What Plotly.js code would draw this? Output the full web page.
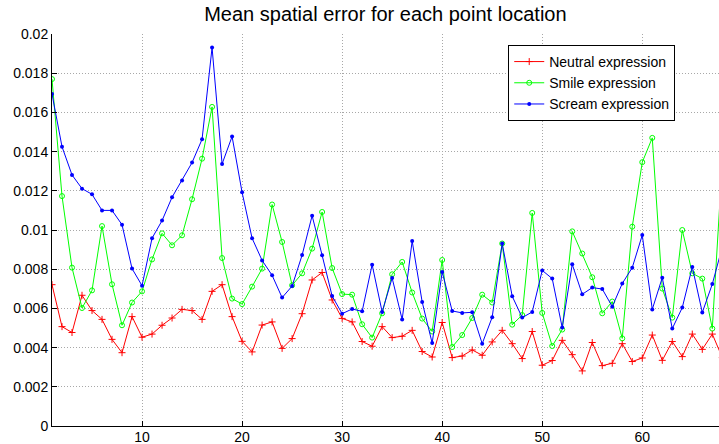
<!DOCTYPE html>
<html>
<head>
<meta charset="utf-8">
<script src="https://cdn.plot.ly/plotly-3.0.1.min.js"></script>
<style>html,body{margin:0;padding:0;background:#fff;}#chart{width:719px;height:444px;}</style>
</head>
<body>
<div id="chart"></div>
<script>
const pointIndex = Array.from({length: 68}, (_, i) => i + 1);

const neutral = [0.00721,0.00507,0.00477,0.00667,0.00589,0.00544,0.00442,0.00374,0.00558,0.00453,
0.00469,0.00514,0.00551,0.00595,0.00589,0.00544,0.00687,0.00721,0.00558,0.00432,
0.00378,0.00515,0.00531,0.00396,0.00446,0.00573,0.00745,0.00783,0.00643,0.00549,
0.00531,0.00431,0.00407,0.00507,0.00451,0.00458,0.00488,0.00380,0.00352,0.00528,
0.00349,0.00357,0.00388,0.00361,0.00429,0.00488,0.00420,0.00344,0.00482,0.00310,
0.00334,0.00437,0.00364,0.00281,0.00426,0.00308,0.00320,0.00420,0.00329,0.00347,
0.00464,0.00335,0.00431,0.00354,0.00469,0.00391,0.00469,0.00349];

const smile = [0.01770,0.01173,0.00808,0.00602,0.00692,0.01020,0.00723,0.00514,0.00630,0.00687,
0.00850,0.00983,0.00922,0.00973,0.01157,0.01364,0.01628,0.00857,0.00650,0.00622,
0.00711,0.00803,0.01130,0.00939,0.00718,0.00779,0.00905,0.01092,0.00806,0.00673,
0.00670,0.00519,0.00451,0.00575,0.00774,0.00837,0.00681,0.00548,0.00482,0.00847,
0.00403,0.00464,0.00551,0.00670,0.00630,0.00931,0.00517,0.00566,0.01087,0.00577,
0.00408,0.00492,0.00993,0.00880,0.00759,0.00575,0.00635,0.00447,0.01017,0.01346,
0.01470,0.00701,0.00553,0.01000,0.00779,0.00752,0.00497,0.01350];

const scream = [0.01694,0.01425,0.01281,0.01211,0.01182,0.01100,0.01100,0.01027,0.00803,0.00716,
0.00958,0.01048,0.01167,0.01253,0.01344,0.01463,0.01931,0.01337,0.01477,0.01192,
0.00958,0.00845,0.00769,0.00655,0.00714,0.00872,0.01073,0.00871,0.00663,0.00573,
0.00597,0.00585,0.00823,0.00582,0.00755,0.00543,0.00944,0.00633,0.00423,0.00786,
0.00587,0.00577,0.00580,0.00420,0.00555,0.00931,0.00662,0.00553,0.00582,0.00794,
0.00752,0.00502,0.00825,0.00672,0.00706,0.00699,0.00609,0.00727,0.00808,0.00974,
0.00595,0.00757,0.00497,0.00604,0.00811,0.00579,0.00724,0.00914];

const seriesNames = ["Neutral expression", "Smile expression", "Scream expression"];
const yTickVals = [0,0.002,0.004,0.006,0.008,0.01,0.012,0.014,0.016,0.018,0.02];
const yTickText = ["0","0.002","0.004","0.006","0.008","0.01","0.012","0.014","0.016","0.018","0.02"];
const xTickVals = [10,20,30,40,50,60];

const traces = [
  {x: pointIndex, y: neutral, name: seriesNames[0], mode: 'lines+markers',
   line: {color: '#ff0000', width: 1},
   marker: {symbol: 'cross-thin-open', size: 5, color: '#ff0000', line: {color: '#ff0000', width: 1}}},
  {x: pointIndex, y: smile, name: seriesNames[1], mode: 'lines+markers',
   line: {color: '#00ff00', width: 1},
   marker: {symbol: 'circle-open', size: 5, color: '#00ff00', line: {color: '#00ff00', width: 1}}},
  {x: pointIndex, y: scream, name: seriesNames[2], mode: 'lines+markers',
   line: {color: '#0000ff', width: 1},
   marker: {symbol: 'circle', size: 4, color: '#0000ff'}}
];

const layout = {
  width: 719, height: 444,
  margin: {l: 52, r: 0, t: 34, b: 18, pad: 0},
  paper_bgcolor: '#ffffff', plot_bgcolor: '#ffffff',
  font: {family: 'Liberation Sans, Arial, sans-serif', size: 14, color: '#000'},
  title: {text: 'Mean spatial error for each point location', x: 0.536, xanchor: 'center', y: 0.968, yanchor: 'middle',
          font: {family: 'Liberation Sans, Arial, sans-serif', size: 20, color: '#000'}},
  showlegend: true,
  legend: {x: 0.684, y: 0.972, xanchor: 'left', yanchor: 'top', bgcolor: '#ffffff',
           bordercolor: '#000', borderwidth: 1, font: {size: 14}, tracegroupgap: 0, itemwidth: 30},
  xaxis: {range: [1, 67.67], tickvals: xTickVals, ticks: 'inside', ticklen: 5, tickcolor: '#000',
          showline: true, linecolor: '#000', linewidth: 1, mirror: false, ticklabelstandoff: -2,
          showgrid: true, gridcolor: '#a8a8a8', griddash: '1px,2px', gridwidth: 1, zeroline: false,
          tickfont: {size: 14}},
  yaxis: {range: [0, 0.02], tickvals: yTickVals, ticktext: yTickText, ticks: 'inside', ticklen: 5, tickcolor: '#000',
          showline: true, linecolor: '#000', linewidth: 1, mirror: false,
          showgrid: true, gridcolor: '#a8a8a8', griddash: '1px,2px', gridwidth: 1, zeroline: false,
          tickfont: {size: 14}}
};

Plotly.newPlot('chart', traces, layout, {displayModeBar: false, staticPlot: true});
</script>
</body>
</html>
